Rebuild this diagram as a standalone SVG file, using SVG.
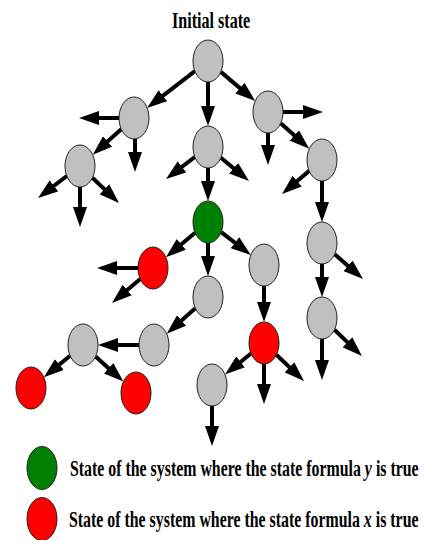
<svg xmlns="http://www.w3.org/2000/svg" width="430" height="540" viewBox="0 0 430 540">
<style>
.st{stroke:#222;stroke-width:1}
.gray{fill:#c0c0c0}
.green{fill:#008000}
.red{fill:#ff0000}
.edge{stroke:#000;stroke-width:4;fill:none;marker-end:url(#ah)}
.lbl{font-family:"Liberation Serif","Times New Roman",serif;font-weight:bold;font-size:23px;fill:#000}
</style>
<defs>
<marker id="ah" markerUnits="userSpaceOnUse" markerWidth="20" markerHeight="14" refX="10" refY="7" orient="auto">
<path d="M0,0 L20,7 L0,14 z" fill="#000"/>
</marker>
</defs>
<rect width="430" height="540" fill="#fff"/>
<g id="title"><text class="lbl" transform="translate(172,28) scale(0.7,1)" x="0" y="0">Initial state</text></g>
<g id="connectors">
<line class="edge" x1="194.9" y1="71.1" x2="155" y2="101.8"/>
<line class="edge" x1="208" y1="82" x2="208" y2="116"/>
<line class="edge" x1="220.8" y1="71.9" x2="247.6" y2="94.6"/>
<line class="edge" x1="119" y1="118" x2="89" y2="118"/>
<line class="edge" x1="135" y1="139" x2="135" y2="162"/>
<line class="edge" x1="121.3" y1="129.3" x2="100.2" y2="148.1"/>
<line class="edge" x1="194.8" y1="157" x2="174" y2="172.9"/>
<line class="edge" x1="208" y1="168" x2="208" y2="191"/>
<line class="edge" x1="220.9" y1="157.7" x2="241.3" y2="174.6"/>
<line class="edge" x1="283" y1="112" x2="313" y2="112"/>
<line class="edge" x1="268" y1="133" x2="268" y2="155"/>
<line class="edge" x1="280.7" y1="123.3" x2="301.8" y2="142.1"/>
<line class="edge" x1="309.2" y1="170.9" x2="289.6" y2="187.5"/>
<line class="edge" x1="322" y1="181" x2="322" y2="212"/>
<line class="edge" x1="66.8" y1="176" x2="46" y2="191.9"/>
<line class="edge" x1="80" y1="187" x2="80" y2="217"/>
<line class="edge" x1="92.4" y1="177.8" x2="111.7" y2="196.1"/>
<line class="edge" x1="195.1" y1="232.8" x2="173.6" y2="250.8"/>
<line class="edge" x1="208" y1="243" x2="208" y2="266"/>
<line class="edge" x1="221.2" y1="232.1" x2="242.9" y2="248.8"/>
<line class="edge" x1="138" y1="268" x2="107" y2="268"/>
<line class="edge" x1="140.2" y1="278.9" x2="119.6" y2="296.5"/>
<line class="edge" x1="195.3" y1="308.3" x2="174.2" y2="327.1"/>
<line class="edge" x1="139" y1="345" x2="108" y2="345"/>
<line class="edge" x1="70.1" y1="355.7" x2="51.6" y2="370.9"/>
<line class="edge" x1="95.6" y1="356.4" x2="116" y2="374.9"/>
<line class="edge" x1="264" y1="286" x2="264" y2="312"/>
<line class="edge" x1="251" y1="353.5" x2="232.8" y2="368.2"/>
<line class="edge" x1="264" y1="364" x2="264" y2="394"/>
<line class="edge" x1="276.4" y1="354.8" x2="296.7" y2="374.1"/>
<line class="edge" x1="212" y1="406" x2="212" y2="436"/>
<line class="edge" x1="322" y1="264" x2="322" y2="287"/>
<line class="edge" x1="334.7" y1="254.2" x2="355.5" y2="272.4"/>
<line class="edge" x1="322" y1="339" x2="322" y2="370"/>
<line class="edge" x1="334.4" y1="329.8" x2="354.7" y2="349.1"/>
</g>
<g id="nA"><ellipse class="st gray" cx="208" cy="61" rx="15" ry="21"/></g>
<g id="nB"><ellipse class="st gray" cx="134" cy="118" rx="15" ry="21"/></g>
<g id="nC"><ellipse class="st gray" cx="208" cy="147" rx="15" ry="21"/></g>
<g id="nD"><ellipse class="st gray" cx="268" cy="112" rx="15" ry="21"/></g>
<g id="nE"><ellipse class="st gray" cx="322" cy="160" rx="15" ry="21"/></g>
<g id="nF"><ellipse class="st gray" cx="80" cy="166" rx="15" ry="21"/></g>
<g id="nG"><ellipse class="st green" cx="208" cy="222" rx="15" ry="21"/></g>
<g id="nR1"><ellipse class="st red" cx="153" cy="268" rx="15" ry="21"/></g>
<g id="nH"><ellipse class="st gray" cx="208" cy="297" rx="15" ry="21"/></g>
<g id="nI"><ellipse class="st gray" cx="264" cy="265" rx="15" ry="21"/></g>
<g id="nJ"><ellipse class="st gray" cx="322" cy="243" rx="15" ry="21"/></g>
<g id="nK"><ellipse class="st gray" cx="322" cy="318" rx="15" ry="21"/></g>
<g id="nL"><ellipse class="st gray" cx="154" cy="345" rx="15" ry="21"/></g>
<g id="nM"><ellipse class="st gray" cx="83" cy="345" rx="15" ry="21"/></g>
<g id="nR2"><ellipse class="st red" cx="264" cy="343" rx="15" ry="21"/></g>
<g id="nR3"><ellipse class="st red" cx="31" cy="388" rx="15" ry="21"/></g>
<g id="nR4"><ellipse class="st red" cx="136" cy="393" rx="15" ry="21"/></g>
<g id="nN"><ellipse class="st gray" cx="212" cy="385" rx="15" ry="21"/></g>
<g id="legend-y">
<ellipse class="st green" cx="42" cy="468" rx="15" ry="21.5"/>
<text class="lbl" transform="translate(70,476) scale(0.69,1)" x="0" y="0">State of the system where the state formula <tspan font-style="italic">y</tspan> is true</text>
</g>
<g id="legend-x">
<ellipse class="st red" cx="42" cy="519" rx="15" ry="21.5"/>
<text class="lbl" transform="translate(69,527) scale(0.69,1)" x="0" y="0">State of the system where the state formula <tspan font-style="italic">x</tspan> is true</text>
</g>
</svg>
